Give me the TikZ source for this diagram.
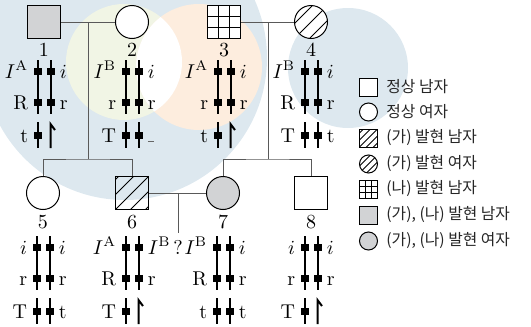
\documentclass[tikz,border=0pt]{standalone}
\usepackage{amsmath}
\usepackage{fontspec}
\newfontfamily\kr{Noto Sans CJK KR}
\usetikzlibrary{calc, positioning}
\definecolor{bgblue}{RGB}{221,232,239}
\definecolor{bggreen}{RGB}{241,245,229}
\definecolor{bgorange}{RGB}{253,237,222}
\definecolor{affgray}{RGB}{210,211,213}

\begin{document}
\begin{tikzpicture}[x=0.5pt, y=-0.5pt,
  person/.style={draw, line width=0.5pt, inner sep=0, minimum size=16.5pt},
  male/.style={person},
  female/.style={person, circle},
  key/.style={draw, line width=0.5pt, inner sep=0, minimum size=9pt},
  link/.style={draw=black!65, line width=0.5pt},
  chrom/.style={line width=1pt},
  band/.style={fill, inner sep=0, minimum width=4pt, minimum height=3.5pt},
  lt/.style={inner sep=0, anchor=base east},
  rt/.style={inner sep=0, anchor=base west},
  hatched/.style={path picture={
    \foreach \k in {-4,...,4}
      \draw[line width=0.45pt] ([shift={(\k*#1-30,30)}]path picture bounding box.center) -- ++(60,-60);}},
  gridfill/.style={path picture={
    \foreach \t in {0.3333,0.6667} {
      \draw[line width=0.45pt] ($(path picture bounding box.south west)!\t!(path picture bounding box.south east)$)
        -- ($(path picture bounding box.north west)!\t!(path picture bounding box.north east)$);
      \draw[line width=0.45pt] ($(path picture bounding box.south west)!\t!(path picture bounding box.north west)$)
        -- ($(path picture bounding box.south east)!\t!(path picture bounding box.north east)$);}}},
  keytext/.style={anchor=west, inner sep=0, text=black!85, font=\kr\fontsize{7.9}{9}\selectfont}]
  \useasboundingbox (0,0) rectangle (531,327);

  % background discs
  \begin{scope}
    \clip (0,0) rectangle (531,327);
    \fill[bgblue] (125,58) circle (142);
    \fill[bggreen] (124,62) circle (58);
    \fill[bgorange] (199,67) circle (63);
    \begin{scope}
      \clip (124,62) circle (58);
      \fill[white] (199,67) circle (63);
    \end{scope}
    \fill[bgblue] (348,68) circle (60);
  \end{scope}

  % pedigree
  \node[male, fill=affgray] (p1) at (44,22) {};
  \node[female, fill=white] (p2) at (132,22) {};
  \node[male, fill=white, gridfill] (p3) at (224,22) {};
  \node[female, fill=white, hatched=15] (p4) at (311,22) {};
  \node[female, fill=white] (p5) at (43,193) {};
  \node[male, hatched=15] (p6) at (132,193) {};
  \node[female, fill=affgray] (p7) at (223,193) {};
  \node[male, fill=white] (p8) at (311,193) {};
  \node (q) at (178,247) {?};

  \coordinate (m12) at (88,22);
  \coordinate (s12) at (88,159);
  \coordinate (m34) at (268,22);
  \coordinate (s34) at (268,159);
  \coordinate (m67) at (178,193);
  \draw[link] (p1) -- (p2);
  \draw[link] (p3) -- (p4);
  \draw[link] (p6) -- (p7);
  \draw[link] (m12) -- (s12);
  \draw[link] (m34) -- (s34);
  \draw[link] (p5.north) |- (s12) -| (p6.north);
  \draw[link] (p7.north) |- (s34) -| (p8.north);
  \draw[link] (m67) -- (q.north);

  \foreach \k/\xc/\yc in {1/44/50, 2/132/50, 3/224/50, 4/311/50, 5/43/222, 6/132/222, 7/223/222, 8/311/222}
    \node (n\k) at (\xc,\yc) {\k};

  % chromosomes
  \foreach \xc/\dy/\la/\ra/\lb/\rb/\lc/\rc/\hk in {
     44/0/{$I^{\mathrm{A}}$}/{$i$}/R/r/t//1,
    132/0/{$I^{\mathrm{B}}$}/{$i$}/r/r/T/{\color{black!60}\rule{3pt}{0.5pt}}/0,
    224/0/{$I^{\mathrm{A}}$}/{$i$}/r/r/t//1,
    311/0/{$I^{\mathrm{B}}$}/{$i$}/R/r/T/t/0,
     43/176/{$i$}/{$i$}/r/r/T/t/0,
    132/176/{$I^{\mathrm{A}}$}/{$I^{\mathrm{B}}$}/R/r/T//1,
    223/176/{$I^{\mathrm{B}}$}/{$i$}/R/r/t/t/0,
    311/176/{$i$}/{$i$}/r/r/T//1} {
    \foreach \s in {-6.5,6.5} {
      \draw[chrom] (\xc+\s,60+\dy) -- (\xc+\s,114+\dy);
      \node[band] at (\xc+\s,71+\dy) {};
      \node[band] at (\xc+\s,102+\dy) {};
    }
    \draw[chrom] (\xc-6.5,122+\dy) -- (\xc-6.5,148+\dy);
    \node[band] at (\xc-6.5,135+\dy) {};
    \ifnum\hk=1
      \draw[chrom] (\xc+6.5,148+\dy) -- (\xc+6.5,124+\dy) -- (\xc+11,130+\dy);
    \else
      \draw[chrom] (\xc+6.5,122+\dy) -- (\xc+6.5,148+\dy);
      \node[band] at (\xc+6.5,135+\dy) {};
    \fi
    \node[lt] at (\xc-15.5,78+\dy) {\la};
    \node[rt] at (\xc+15.5,78+\dy) {\ra};
    \node[lt] at (\xc-15.5,109+\dy) {\lb};
    \node[rt] at (\xc+15.5,109+\dy) {\rb};
    \node[lt] at (\xc-15.5,142+\dy) {\lc};
    \node[rt] at (\xc+15.5,142+\dy) {\rc};
  }

  % legend
  \node[key, fill=white] (k1) at (368.5,87) {};
  \node[key, circle, fill=white] (k2) at (368.5,112) {};
  \node[key, hatched=7] (k3) at (368.5,138) {};
  \node[key, circle, hatched=7] (k4) at (368.5,164) {};
  \node[key, gridfill] (k5) at (368.5,189) {};
  \node[key, fill=affgray] (k6) at (368.5,215) {};
  \node[key, circle, fill=affgray] (k7) at (368.5,241) {};
  \node[keytext] (t1) at (386,87) {정상 남자};
  \node[keytext] (t2) at (386,112) {정상 여자};
  \node[keytext] (t3) at (386,138) {(가) 발현 남자};
  \node[keytext] (t4) at (386,164) {(가) 발현 여자};
  \node[keytext] (t5) at (386,189) {(나) 발현 남자};
  \node[keytext] (t6) at (386,215) {(가), (나) 발현 남자};
  \node[keytext] (t7) at (386,241) {(가), (나) 발현 여자};
\end{tikzpicture}
\end{document}
